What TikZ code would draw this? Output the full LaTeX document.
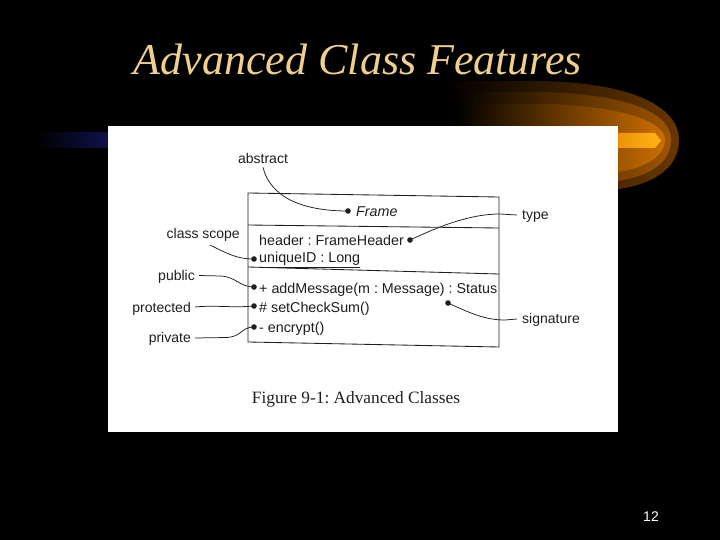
\documentclass[tikz,border=0pt]{standalone}
\usepackage{fontspec}
\setmainfont{Liberation Serif}
\setsansfont{Liberation Sans}
\frenchspacing
\definecolor{titlecol}{RGB}{240,206,140}
\definecolor{swA}{RGB}{105,55,0}
\definecolor{swB}{RGB}{160,85,0}
\definecolor{swC}{RGB}{205,110,0}
\definecolor{barL}{RGB}{230,130,0}
\definecolor{barR}{RGB}{255,182,20}
\definecolor{navy}{RGB}{18,18,80}
\definecolor{ink}{RGB}{30,30,30}
\begin{document}
\begin{tikzpicture}[x=1pt,y=-1pt,
  uml/.style={draw=ink,line width=0.85pt},
  lead/.style={draw=ink,line width=0.75pt},
  umltxt/.style={inner sep=0pt,text=ink,font=\sffamily\fontsize{14.3}{16}\selectfont},
  lbl/.style={inner sep=0pt,text=ink,font=\sffamily\fontsize{14}{16}\selectfont},
  pin/.style={circle,fill=ink,inner sep=0pt,minimum size=5.6pt}]
\useasboundingbox (0,0) rectangle (720,540);
\fill[black] (0,0) rectangle (720,540);
% swoosh
\shade[left color=black,middle color=swA,right color=swA]
  (445,81) -- (540,81) .. controls (640,83) and (679,110) .. (679,140)
  .. controls (679,170) and (650,188) .. (600,191) -- (445,191) -- cycle;
\shade[left color=black,middle color=swB,right color=swB]
  (450,92) -- (545,92) .. controls (635,95) and (671,115) .. (671,140)
  .. controls (671,165) and (645,180) .. (600,183) -- (450,183) -- cycle;
\shade[left color=black,middle color=swC,right color=swC]
  (455,104) -- (550,104) .. controls (625,107) and (665,122) .. (665,140)
  .. controls (665,158) and (640,172) .. (600,174) -- (455,174) -- cycle;
\shade[left color=black,right color=navy] (35,133) rectangle (112,148);
\shade[left color=barL,right color=barR]
  (600,133) -- (655,133) -- (661,140.5) -- (655,148) -- (600,148) -- cycle;
% title
\node[anchor=base,inner sep=0pt,text=titlecol,font=\fontsize{44}{44}\selectfont\itshape] (title) at (358,75) {Advanced Class Features};
% white panel
\fill[white] (108,126) rectangle (618,432);
% class box
\draw[uml] (248,193) -- (499,197) -- (499,347) -- (248,342) -- cycle;
\draw[uml] (248,225) -- (499,228);
\draw[uml] (248,267) -- (499,274);
% class contents
\node[umltxt,anchor=base west] (frame) at (356,216) {\itshape Frame};
\node[umltxt,anchor=base west] (hdr) at (259,245) {header : FrameHeader};
\node[umltxt,anchor=base west] (uid) at (259,262.5) {\underline{uniqueID : Long}};
\node[umltxt,anchor=base west] (add) at (259,293.5) {+ addMessage(m : Message) : Status};
\node[umltxt,anchor=base west] (chk) at (259,312) {\# setCheckSum()};
\node[umltxt,anchor=base west] (enc) at (259,332) {- encrypt()};
% pins
\node[pin] (dframe) at (348,211) {};
\node[pin] (dhdr) at (410,240) {};
\node[pin] (duid) at (254,259) {};
\node[pin] (dadd) at (254,287) {};
\node[pin] (dchk) at (254,306) {};
\node[pin] (denc) at (254,327) {};
\node[pin] (dsig) at (448,303) {};
% labels
\node[lbl,anchor=base] (abstract) at (263,164) {abstract};
\node[lbl,anchor=base east] (cscope) at (240,238) {class scope};
\node[lbl,anchor=base east] (public) at (195,280) {public};
\node[lbl,anchor=base east] (protected) at (191,312) {protected};
\node[lbl,anchor=base east] (private) at (191,342) {private};
\node[lbl,anchor=base west] (type) at (522,220) {type};
\node[lbl,anchor=base west] (signature) at (522,323) {signature};
% leaders
\draw[lead] ([yshift=-3pt]abstract.south) .. controls (270,196) and (300,211) .. (dframe.center);
\draw[lead] ([xshift=-30pt,yshift=-4pt]cscope.south east) .. controls (225,252) and (235,259) .. (duid.center);
\draw[lead] ([xshift=4pt,yshift=4.5pt]public.base east) -- (221,276) .. controls (236,277) and (240,287) .. (dadd.center);
\draw[lead] ([xshift=4pt,yshift=5pt]protected.base east) .. controls (215,305) and (232,308) .. (dchk.center);
\draw[lead] ([xshift=4pt,yshift=4pt]private.base east) -- (226,337.5) .. controls (242,337) and (241,327) .. (denc.center);
\draw[lead] (dhdr.center) .. controls (440,226) and (470,214) .. (500,214) -- ([xshift=-5pt,yshift=5pt]type.base west);
\draw[lead] (dsig.center) .. controls (470,313) and (485,320) .. (505,320) -- ([xshift=-5pt,yshift=4pt]signature.base west);
% caption
\node[anchor=base,inner sep=0pt,text=ink,font=\fontsize{17.3}{20}\selectfont] (caption) at (356,403) {Figure 9-1: Advanced Classes};
% page number
\node[anchor=base,inner sep=0pt,text=white,font=\sffamily\fontsize{14}{16}\selectfont] (pnum) at (651,521) {12};
\end{tikzpicture}
\end{document}
